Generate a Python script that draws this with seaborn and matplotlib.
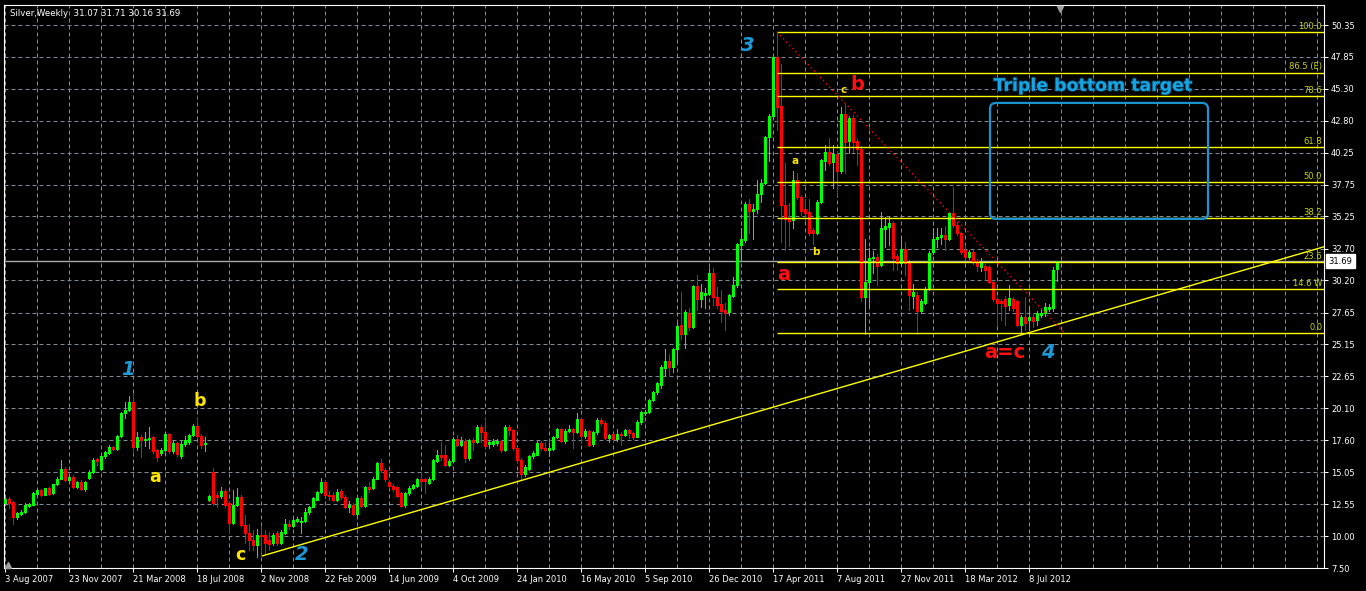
import numpy as np
import pandas as pd
import matplotlib.pyplot as plt
import matplotlib.transforms as mtransforms
import matplotlib.patheffects as pe
from matplotlib.patches import FancyBboxPatch
import seaborn as sns

# ── Data (weekly silver candles) ─────────────────────────────────────────────
opens = [
    12.6, 12.92, 12.7, 11.55, 11.8, 11.9, 12.4, 12.5, 13.35, 13.65,
    13.3, 13.8, 13.4, 14.1, 14.55, 15.35, 14.45, 14.7, 13.9, 14.3,
    13.7, 14.6, 15.1, 16.1, 15.3, 16.3, 16.6, 17.05, 16.9, 17.9,
    19.7, 20.0, 20.6, 17.05, 17.8, 17.6, 17.65, 17.8, 16.8, 16.6,
    16.8, 18.05, 16.7, 17.35, 16.35, 17.25, 17.45, 18.0, 18.7, 17.95,
    17.3, 12.9, 15.1, 13.25, 13.15, 13.6, 12.6, 11.05, 12.45, 13.1,
    10.9, 10.3, 9.7, 9.3, 10.1, 10.1, 9.7, 9.45, 10.25, 9.5,
    10.3, 11.0, 10.8, 11.2, 11.15, 11.2, 11.9, 12.35, 12.9, 13.5,
    14.3, 13.3, 13.25, 12.9, 13.55, 13.1, 12.35, 12.45, 11.8, 13.0,
    12.4, 13.9, 13.8, 14.55, 15.75, 15.25, 14.3, 13.95, 13.9, 13.4,
    12.45, 13.4, 13.8, 14.0, 14.55, 14.5, 14.2, 14.55, 15.95, 16.4,
    16.4, 15.65, 15.95, 17.65, 17.2, 17.55, 16.15, 17.6, 17.45, 18.65,
    18.25, 17.3, 17.3, 17.35, 17.5, 16.8, 18.65, 18.4, 16.95, 16.05,
    14.95, 15.3, 16.3, 16.45, 17.4, 16.95, 16.85, 16.9, 17.85, 18.45,
    17.5, 18.3, 18.45, 18.25, 19.25, 17.9, 18.3, 17.25, 18.2, 19.15,
    18.95, 17.75, 18.05, 17.65, 18.1, 18.0, 18.4, 18.15, 17.85, 19.0,
    19.75, 19.8, 20.75, 21.35, 21.95, 23.3, 23.8, 23.4, 24.75, 26.65,
    26.0, 27.65, 26.5, 29.75, 28.7, 29.05, 29.15, 30.8, 28.9, 28.3,
    27.85, 27.7, 29.0, 29.8, 33.0, 33.35, 36.2, 35.7, 35.8, 37.05,
    37.9, 41.5, 43.15, 47.8, 43.95, 36.15, 35.05, 34.95, 38.15, 36.75,
    35.8, 35.6, 34.15, 33.95, 36.4, 39.65, 40.3, 39.5, 40.15, 38.85,
    43.35, 41.2, 43.05, 41.2, 40.6, 28.9, 30.1, 32.0, 32.05, 31.4,
    34.25, 34.4, 34.75, 32.1, 31.6, 32.65, 31.6, 28.95, 29.05, 27.75,
    28.45, 29.5, 32.4, 33.45, 33.6, 33.75, 33.45, 35.5, 34.55, 33.9,
    32.6, 32.05, 32.45, 31.7, 31.25, 31.35, 31.25, 30.1, 28.7, 28.6,
    28.7, 28.25, 28.7, 28.55, 26.7, 27.3, 27.1, 27.3, 27.05, 27.5,
    27.6, 27.95, 28.0, 31.07,
]
highs = [
    13.1, 13.1, 12.8, 11.95, 12.05, 12.6, 12.6, 13.5, 13.75, 13.75,
    13.85, 13.9, 14.15, 14.65, 16.05, 15.5, 14.9, 14.8, 14.4, 14.45,
    14.4, 15.2, 16.15, 16.2, 16.4, 16.75, 17.2, 17.15, 18.0, 19.8,
    20.6, 21.1, 21.3, 18.25, 18.0, 18.25, 18.65, 17.9, 16.9, 16.95,
    18.2, 18.15, 17.5, 17.45, 17.6, 17.9, 18.1, 18.85, 19.4, 18.05,
    17.8, 13.3, 15.4, 13.5, 13.9, 13.7, 12.7, 13.65, 13.8, 13.3,
    11.7, 11.0, 10.5, 10.6, 10.75, 10.5, 10.35, 10.3, 10.4, 10.5,
    11.4, 11.3, 11.45, 11.55, 11.55, 12.2, 12.4, 13.1, 13.6, 14.6,
    14.4, 13.6, 13.5, 13.7, 13.7, 13.3, 12.8, 12.6, 13.1, 13.2,
    14.0, 14.3, 14.7, 15.85, 16.1, 15.4, 14.45, 14.1, 14.0, 13.5,
    13.5, 13.95, 14.15, 14.6, 15.1, 14.6, 14.7, 16.1, 16.85, 17.45,
    17.2, 16.1, 17.8, 18.0, 17.8, 17.65, 17.7, 17.75, 18.75, 18.8,
    19.3, 17.6, 17.65, 17.7, 17.6, 18.75, 18.8, 18.5, 17.05, 16.2,
    15.6, 16.45, 16.7, 17.5, 17.55, 17.45, 17.35, 17.95, 18.55, 18.55,
    18.5, 18.8, 18.55, 19.7, 19.35, 18.45, 18.4, 18.35, 19.3, 19.35,
    19.1, 18.1, 18.15, 18.45, 18.2, 18.5, 18.5, 18.25, 19.15, 19.9,
    20.0, 20.85, 21.5, 22.2, 23.5, 24.8, 24.4, 24.85, 26.8, 29.3,
    27.85, 27.99, 29.85, 30.6, 29.95, 29.6, 31.15, 31.15, 29.7, 29.45,
    28.4, 29.15, 30.5, 33.15, 34.3, 36.4, 36.65, 36.25, 38.1, 38.2,
    41.6, 43.35, 48.0, 49.8, 47.3, 39.45, 36.3, 38.8, 38.65, 36.9,
    36.65, 36.65, 34.3, 36.55, 39.8, 40.9, 41.4, 40.9, 40.3, 43.85,
    44.15, 43.2, 43.25, 41.35, 40.8, 33.45, 32.75, 32.5, 32.3, 35.6,
    35.2, 35.3, 34.9, 32.3, 33.6, 33.25, 31.8, 29.95, 29.3, 28.75,
    29.7, 32.5, 34.3, 34.3, 34.3, 34.45, 35.6, 37.55, 34.8, 34.0,
    33.0, 32.6, 32.6, 31.85, 31.95, 31.5, 31.4, 30.2, 28.85, 28.75,
    28.95, 29.8, 28.85, 28.65, 27.45, 28.9, 28.0, 27.6, 27.75, 28.0,
    28.4, 28.3, 31.25, 31.71,
]
lows = [
    12.5, 12.2, 10.95, 11.4, 11.7, 11.85, 12.3, 12.45, 13.3, 13.2,
    13.25, 13.3, 13.35, 14.05, 14.5, 14.35, 14.3, 13.8, 13.8, 13.65,
    13.6, 14.5, 15.0, 15.6, 15.2, 16.2, 16.5, 16.8, 16.85, 17.85,
    19.3, 19.9, 16.6, 16.8, 16.25, 17.15, 17.0, 16.6, 15.95, 16.45,
    16.7, 16.6, 16.55, 16.3, 16.2, 17.1, 17.3, 17.9, 17.85, 17.0,
    16.7, 12.8, 12.5, 12.35, 13.0, 12.3, 10.25, 10.95, 12.4, 10.8,
    9.45, 8.9, 8.9, 8.4, 8.8, 8.65, 8.9, 9.3, 9.3, 9.4,
    10.2, 10.6, 10.7, 11.1, 10.25, 11.1, 11.8, 12.3, 12.85, 13.45,
    13.2, 12.9, 12.8, 12.8, 12.95, 12.25, 11.9, 11.7, 11.65, 12.3,
    12.35, 13.5, 13.75, 14.5, 15.1, 14.4, 13.85, 13.6, 13.1, 12.3,
    12.3, 13.3, 13.7, 13.9, 13.9, 13.4, 14.1, 14.45, 15.85, 16.0,
    15.55, 15.55, 15.9, 17.1, 17.1, 15.9, 16.05, 16.85, 17.4, 17.45,
    17.0, 17.0, 17.1, 17.2, 16.65, 16.7, 18.0, 16.85, 15.9, 14.45,
    14.75, 15.2, 16.2, 16.4, 16.85, 16.7, 16.3, 16.8, 17.75, 17.45,
    17.4, 18.2, 16.95, 18.15, 17.35, 17.75, 17.1, 17.15, 18.1, 18.8,
    17.65, 17.45, 17.55, 17.55, 17.2, 17.9, 17.75, 17.7, 17.8, 18.9,
    19.6, 19.7, 20.7, 21.2, 21.7, 22.75, 22.75, 23.0, 23.8, 25.6,
    24.85, 26.3, 26.4, 27.85, 28.1, 28.0, 29.05, 28.25, 28.0, 26.94,
    26.25, 27.45, 28.9, 29.7, 31.7, 33.2, 33.95, 33.45, 35.5, 36.35,
    37.8, 39.6, 43.0, 42.1, 33.2, 32.6, 32.9, 34.3, 36.6, 35.35,
    34.85, 33.8, 33.1, 33.85, 36.3, 38.9, 39.3, 37.45, 36.95, 38.7,
    38.65, 40.25, 40.35, 39.3, 28.6, 26.0, 28.1, 30.8, 29.85, 31.3,
    32.85, 33.0, 31.0, 31.0, 31.45, 30.6, 27.85, 28.0, 26.0, 27.6,
    28.3, 29.4, 32.3, 32.85, 33.1, 32.6, 33.35, 34.4, 33.75, 32.3,
    31.7, 31.9, 31.5, 30.9, 30.95, 30.25, 30.0, 28.6, 26.7, 27.05,
    26.7, 27.85, 27.8, 26.6, 26.0, 26.3, 26.3, 26.55, 26.7, 27.3,
    27.35, 27.8, 27.8, 30.16,
]
closes = [
    12.95, 12.6, 11.55, 11.85, 11.95, 12.45, 12.55, 13.4, 13.65, 13.3,
    13.8, 13.35, 14.1, 14.55, 15.35, 14.45, 14.7, 13.9, 14.3, 13.7,
    14.25, 15.1, 16.05, 15.95, 16.3, 16.65, 17.05, 16.9, 17.9, 19.7,
    20.0, 20.6, 17.05, 17.85, 17.6, 17.7, 17.75, 16.7, 16.25, 16.85,
    18.05, 16.7, 17.4, 16.5, 17.3, 17.6, 18.0, 18.7, 17.95, 17.2,
    17.4, 13.2, 12.6, 13.1, 13.6, 12.5, 11.05, 12.45, 13.1, 10.9,
    10.25, 9.7, 9.3, 10.1, 10.0, 9.45, 9.4, 10.1, 9.45, 10.35,
    11.0, 10.8, 11.3, 11.4, 11.2, 11.95, 12.3, 13.0, 13.5, 14.3,
    13.3, 13.15, 12.9, 13.5, 13.1, 12.35, 12.45, 11.8, 13.0, 12.4,
    13.9, 13.75, 14.55, 15.75, 15.25, 14.5, 13.95, 13.7, 13.2, 12.4,
    13.4, 13.85, 14.05, 14.5, 14.35, 14.35, 14.55, 16.0, 16.4, 16.25,
    15.65, 15.95, 17.65, 17.2, 17.5, 16.15, 17.6, 17.45, 18.65, 18.25,
    17.1, 17.45, 17.5, 17.5, 16.8, 18.65, 18.4, 16.95, 16.05, 14.95,
    15.45, 16.35, 16.6, 17.35, 16.95, 16.85, 16.95, 17.85, 18.45, 17.55,
    18.35, 18.45, 18.25, 19.25, 17.9, 18.3, 17.2, 18.25, 19.15, 18.95,
    17.75, 18.0, 17.65, 18.1, 18.0, 18.4, 18.15, 17.85, 19.05, 19.8,
    19.85, 20.75, 21.4, 22.1, 23.4, 23.8, 23.35, 24.75, 26.6, 26.0,
    27.7, 26.5, 29.75, 28.7, 29.25, 29.2, 30.8, 28.85, 28.25, 27.8,
    27.6, 29.05, 29.85, 33.05, 33.45, 36.2, 35.7, 35.85, 37.05, 37.9,
    41.5, 43.15, 47.8, 43.9, 36.15, 35.05, 34.9, 38.1, 36.75, 35.7,
    35.55, 33.95, 33.9, 36.4, 39.7, 40.3, 39.45, 40.15, 38.8, 43.35,
    41.15, 43.05, 41.15, 40.6, 28.9, 30.1, 32.0, 32.05, 31.35, 34.3,
    34.45, 34.75, 32.0, 31.6, 32.65, 31.6, 29.05, 29.25, 27.75, 28.6,
    29.55, 32.35, 33.45, 33.6, 33.75, 33.45, 35.5, 34.55, 33.9, 32.45,
    32.05, 32.45, 31.65, 31.3, 31.55, 31.0, 30.1, 28.7, 28.45, 28.45,
    28.2, 28.8, 28.0, 26.7, 27.3, 26.8, 27.3, 27.0, 27.6, 27.65,
    28.1, 28.1, 31.0, 31.69,
]

date_labels = ["3 Aug 2007", "23 Nov 2007", "21 Mar 2008", "18 Jul 2008", "2 Nov 2008",
               "22 Feb 2009", "14 Jun 2009", "4 Oct 2009", "24 Jan 2010", "16 May 2010",
               "5 Sep 2010", "26 Dec 2010", "17 Apr 2011", "7 Aug 2011", "27 Nov 2011",
               "18 Mar 2012", "8 Jul 2012"]
price_ticks = [7.50, 10.00, 12.55, 15.05, 17.60, 20.10, 22.65, 25.15, 27.65,
               30.20, 32.70, 35.25, 37.75, 40.25, 42.80, 45.30, 47.85, 50.35]

# Fibonacci retracement (high of wave 3 -> low of wave 4)
fib_high, fib_low = 49.80, 26.07
fib_start = 193
fib_levels = [0.0, 14.6, 23.6, 38.2, 50.0, 61.8, 78.6, 86.5, 100.0]
fib_names = ["0.0", "14.6 W", "23.6", "38.2", "50.0", "61.8", "78.6", "86.5 (E)", "100.0"]

# trend lines (bar index, price)
support_x, support_y = [64.25, 329.75], [8.45, 32.85]
resist_x, resist_y = [193, 264.75], [49.80, 26.10]

# triple bottom target zone
target_x = [246.25, 300.75]
target_y = [35.05, 44.20]

# ── Setup ────────────────────────────────────────────────────────────────────
sns.set_style("dark", {"axes.facecolor": "black", "figure.facecolor": "black",
                       "text.color": "white", "xtick.color": "white", "ytick.color": "white"})
plt.rcParams["font.family"] = ["DejaVu Sans"]

df = pd.DataFrame({"open": opens, "high": highs, "low": lows, "close": closes})
df["bar"] = np.arange(len(df))
df["color"] = np.where(df["close"] >= df["open"], "#00ff00", "#ff0000")

px_per_unit = 12.672
fig = plt.figure(figsize=(13.66, 5.91), dpi=100)
ax = fig.add_axes([4 / 1366, 23 / 591, 1320 / 1366, 563 / 591])
ax.set_xlim(-0.25, 329.75)
ax.set_ylim(7.5, 7.5 + 563 / px_per_unit)

# ── Grid ─────────────────────────────────────────────────────────────────────
ax.set_xticks(range(0, 257, 16))
ax.set_xticklabels(date_labels, ha="left")
ax.set_xticks(range(0, 330, 8), minor=True)
ax.set_yticks(price_ticks)
ax.set_yticklabels([f"{p:.2f}" for p in price_ticks])
ax.yaxis.tick_right()
ax.grid(True, which="both", axis="x", color="#7f8a96", lw=0.72, linestyle=(0, (4, 3)))
ax.grid(True, which="major", axis="y", color="#7f8a96", lw=0.72, linestyle=(0, (4, 3)))
ax.set_axisbelow(True)

ax.tick_params(axis="x", which="major", bottom=True, length=3, width=0.75, color="white",
               labelsize=6, labelcolor="white", pad=2)
ax.tick_params(axis="x", which="minor", bottom=False, length=0)
ax.tick_params(axis="y", which="major", right=True, left=False, length=3, width=0.75,
               color="white", labelsize=6, labelcolor="white", pad=2)
for s in ax.spines.values():
    s.set_visible(True)
    s.set_color("white")
    s.set_linewidth(0.8)

# ── Candles: 1 px wicks, 3 px bodies ─────────────────────────────────────────
ax.vlines(df["bar"], df["low"], df["high"], colors=df["color"], lw=0.72,
          antialiased=False, zorder=2)
body_bottom = df[["open", "close"]].min(axis=1)
body_top = np.maximum(df[["open", "close"]].max(axis=1), body_bottom + 0.08)
ax.vlines(df["bar"], body_bottom, body_top, colors=df["color"], lw=2.16,
          antialiased=False, capstyle="butt", zorder=3)

# ── Current price line + label ───────────────────────────────────────────────
last_price = closes[-1]
ax.axhline(last_price, color="#a8a8a8", lw=1.0, zorder=2.5)
blend = mtransforms.blended_transform_factory(ax.transAxes, ax.transData)
ax.text(1.0035, last_price, f"{last_price:.2f}", transform=blend, ha="left", va="center",
        fontsize=6, color="black", clip_on=False,
        bbox=dict(boxstyle="square,pad=0.3", fc="white", ec="white"))

# ── Fibonacci levels ─────────────────────────────────────────────────────────
fib_prices = [fib_low + (fib_high - fib_low) * lv / 100 for lv in fib_levels]
ax.hlines(fib_prices, fib_start, 329.75, colors="#ffff00", lw=1.0, zorder=4)
for p, name in zip(fib_prices, fib_names):
    ax.annotate(name, (329.3, p), xytext=(0, 0.8), textcoords="offset points",
                ha="right", va="bottom", fontsize=6, color="#cdd500", zorder=5)

# ── Trend lines ──────────────────────────────────────────────────────────────
sns.lineplot(x=support_x, y=support_y, ax=ax, color="#ffff00", lw=1.0, zorder=4)
ax.plot(resist_x, resist_y, color="#ff0000", lw=1.0, linestyle=(0, (1, 2.2)), zorder=4)

# ── Target box ───────────────────────────────────────────────────────────────
box = FancyBboxPatch((target_x[0], target_y[0]), target_x[1] - target_x[0],
                     target_y[1] - target_y[0],
                     boxstyle="round,pad=0,rounding_size=1.5", mutation_aspect=0.316,
                     fc="none", ec="#1a94d0", lw=1.6, zorder=5)
ax.add_patch(box)
ax.text(272.0, 45.55, "Triple bottom target", ha="center", va="center", fontsize=12.5,
        fontweight="bold", color="#14a6e4", zorder=6,
        path_effects=[pe.withStroke(linewidth=1.2, foreground="#0a3a55")])

# ── Wave labels ──────────────────────────────────────────────────────────────
blue, yellow, red = "#1c9ad8", "#ffe600", "#ff1010"
for x, y, t in [(30.75, 23.13, "1"), (74.25, 8.55, "2"), (185.75, 48.7, "3"), (260.75, 24.47, "4")]:
    ax.text(x, y, t, ha="center", va="center", fontsize=14, fontweight="bold",
            style="italic", color=blue, zorder=6)
for x, y, t in [(48.75, 20.68, "b"), (37.5, 14.68, "a"), (58.75, 8.5, "c")]:
    ax.text(x, y, t, ha="center", va="center", fontsize=12.5, fontweight="bold",
            color=yellow, zorder=6)
for x, y, t in [(197.5, 39.6, "a"), (202.75, 32.44, "b"), (209.75, 45.23, "c")]:
    ax.text(x, y, t, ha="center", va="center", fontsize=7.5, fontweight="bold",
            color=yellow, zorder=6)
for x, y, t in [(213.0, 45.62, "b"), (194.75, 30.7, "a"), (250.0, 24.47, "a=c")]:
    ax.text(x, y, t, ha="center", va="center", fontsize=14, fontweight="bold",
            color=red, zorder=6)

# small chart-shift markers
ax.plot(0.8, 0.993, marker="v", color="#a0a0a0", ms=5, transform=ax.transAxes,
        clip_on=False, zorder=6)
ax.plot(0.003, 0.006, marker="^", color="#a0a0a0", ms=4, transform=ax.transAxes,
        clip_on=False, zorder=6)

ax.set_xlabel("")
ax.set_ylabel("")
fig.text(10 / 1366, 1 - 13 / 591,
         f"Silver,Weekly  {opens[-1]:.2f} {highs[-1]:.2f} {lows[-1]:.2f} {closes[-1]:.2f}",
         ha="left", va="center", fontsize=6.2, color="white")

plt.savefig("out.png", dpi=100, facecolor="black")
plt.close()
print("Saved: out.png")
